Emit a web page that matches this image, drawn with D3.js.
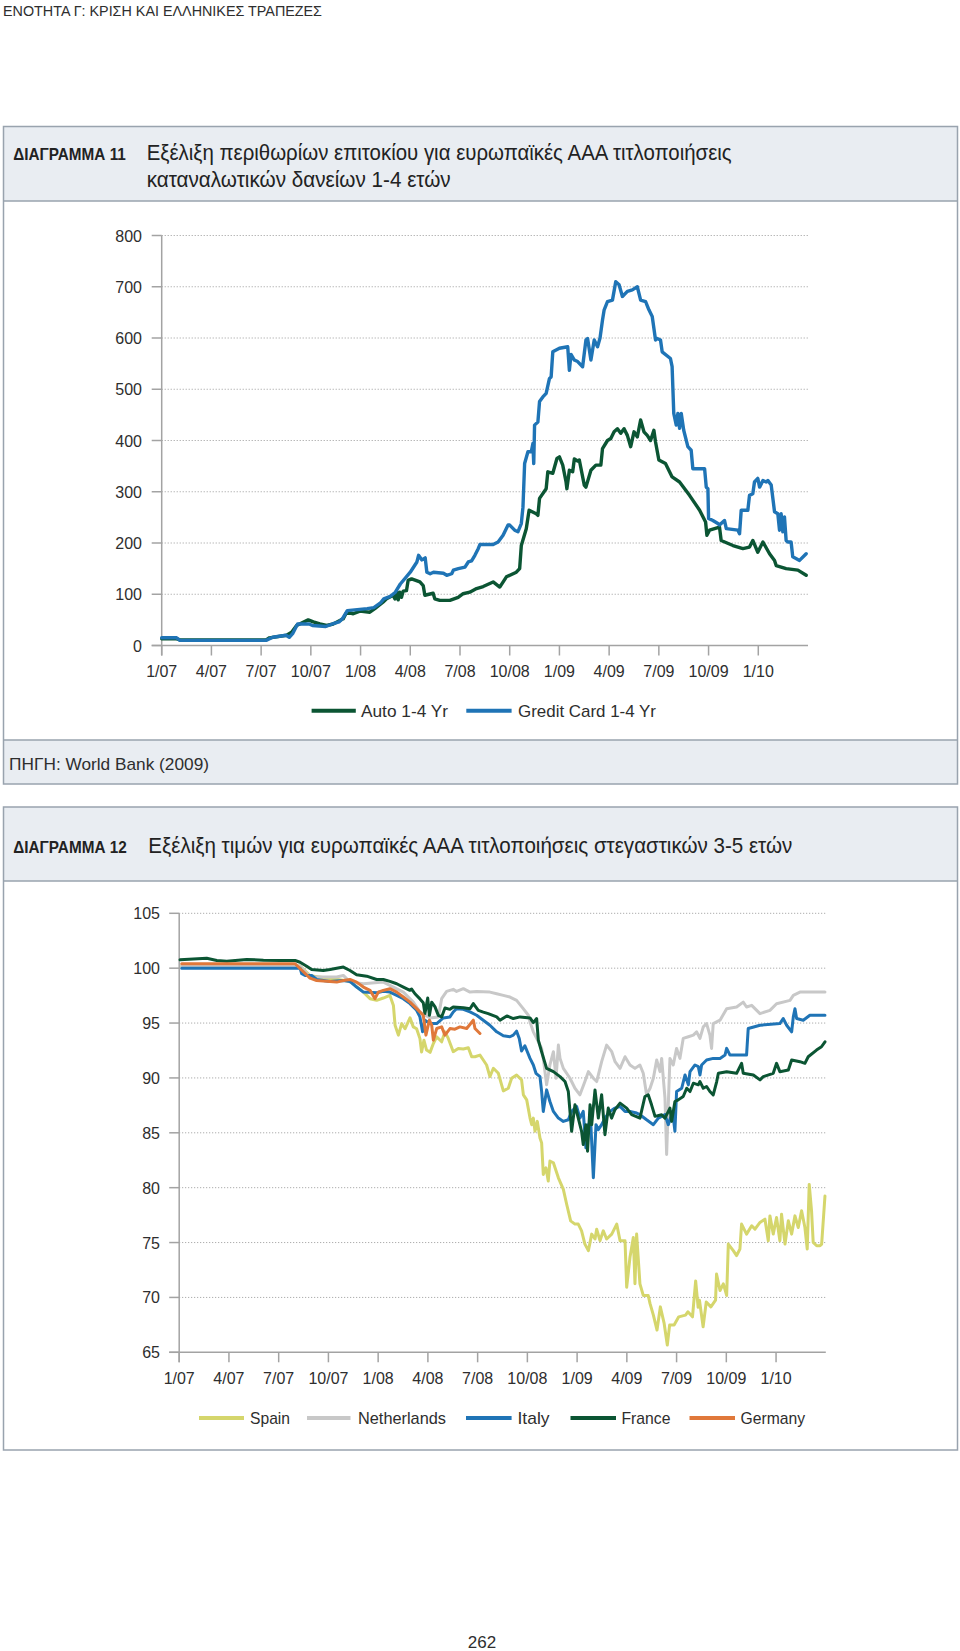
<!DOCTYPE html>
<html><head><meta charset="utf-8">
<script src="https://cdn.jsdelivr.net/npm/d3@7"></script>
<style>
body{margin:0;background:#fff}
svg text{font-family:"Liberation Sans Narrow","Liberation Sans",Arial,sans-serif;fill:#2e2e2e}
svg text.tick{font-family:"Liberation Sans",Arial,sans-serif}
</style>
</head><body>
<svg id="c" width="960" height="1651"></svg>
<script>
// ---------- data ----------
const quarterPos = [0,3,6,9,12,15,18,21,24,27,30,33,36];
const quarterLabels = ["1/07","4/07","7/07","10/07","1/08","4/08","7/08","10/08","1/09","4/09","7/09","10/09","1/10"];
const chart1YTicks = [0,100,200,300,400,500,600,700,800];
const chart2YTicks = [65,70,75,80,85,90,95,100,105];

// months since 1/07 , spread in bp
const autoSeries = [[0,13],[0.9,13],[1.1,11],[6.3,11],[6.5,15],[7.54,20],[7.84,26],[8.14,39],[8.84,50],[9.15,46],[9.55,42],[9.95,39],[10.35,42],[10.95,52],[11.16,65],[11.56,62],[11.96,67],[12.56,65],[12.86,72],[13.37,85],[13.57,91],[13.97,98],[14.07,91],[14.17,106],[14.27,89],[14.37,104],[14.47,94],[14.57,106],[14.77,107],[14.87,127],[15.08,130],[15.58,124],[15.78,117],[15.88,98],[16.38,102],[16.48,91],[16.78,88],[17.39,88],[17.89,94],[18.19,101],[18.59,104],[19.0,111],[19.4,115],[20.0,124],[20.4,114],[20.8,134],[21.4,143],[21.6,150],[21.7,195],[22.0,228],[22.17,264],[22.6,257],[22.7,254],[22.8,287],[23.2,306],[23.3,339],[23.6,336],[23.85,365],[24.0,368],[24.2,352],[24.4,319],[24.45,306],[24.6,342],[24.8,339],[24.9,364],[25.1,360],[25.2,362],[25.5,313],[25.6,309],[25.9,342],[26.2,352],[26.5,352],[26.6,384],[26.9,400],[27.1,404],[27.3,417],[27.5,423],[27.7,414],[27.9,423],[28.1,410],[28.3,388],[28.5,417],[28.7,407],[28.9,440],[29.1,417],[29.3,410],[29.5,400],[29.7,420],[29.8,397],[30.0,362],[30.4,355],[30.8,329],[31.25,319],[31.85,293],[32.46,264],[32.82,241],[32.9,215],[33.06,225],[33.66,231],[33.76,205],[34.47,195],[35.07,189],[35.47,192],[35.67,205],[35.97,182],[36.28,202],[36.68,179],[36.98,166],[37.08,156],[37.68,150],[38.39,147],[38.89,137]];
const creditSeries = [[0,15],[0.9,15],[1.1,10],[6.3,10],[6.7,16],[7.5,20],[7.7,16],[7.9,23],[8.2,42],[8.9,42],[9.1,39],[9.9,37],[10.3,42],[10.7,46],[10.9,52],[11.2,68],[11.8,70],[12.4,72],[12.8,74],[13.2,83],[13.4,91],[13.8,96],[14.1,104],[14.4,120],[15.0,143],[15.4,163],[15.5,176],[15.7,167],[15.9,171],[16.0,143],[16.2,140],[16.4,143],[17.0,141],[17.2,137],[17.5,140],[17.6,147],[17.9,150],[18.3,153],[18.5,163],[18.7,165],[18.9,176],[19.1,189],[19.2,197],[20.0,197],[20.3,202],[20.6,215],[20.9,235],[21.0,235],[21.3,225],[21.5,222],[21.7,238],[21.8,270],[21.9,355],[22.1,378],[22.3,378],[22.4,394],[22.45,355],[22.5,430],[22.7,436],[22.8,476],[23.0,485],[23.2,492],[23.4,521],[23.5,524],[23.6,573],[24.0,580],[24.5,583],[24.6,537],[24.7,568],[24.9,557],[25.1,554],[25.4,544],[25.6,596],[25.7,599],[25.9,557],[26.1,596],[26.3,583],[26.45,600],[26.6,635],[26.7,655],[26.9,671],[27.2,674],[27.4,710],[27.6,704],[27.8,681],[28.1,691],[28.4,694],[28.7,700],[28.9,674],[29.2,671],[29.4,655],[29.6,642],[29.8,596],[29.9,599],[30.1,596],[30.2,573],[30.7,560],[30.8,544],[30.9,453],[31.05,430],[31.15,453],[31.25,424],[31.35,453],[31.5,420],[31.75,388],[31.95,381],[32.05,345],[32.76,345],[32.86,309],[32.96,306],[33.0,248],[33.26,244],[33.56,238],[33.66,235],[33.96,244],[34.07,228],[34.77,225],[34.87,218],[34.97,264],[35.37,264],[35.47,293],[35.67,296],[35.77,319],[35.97,326],[36.08,309],[36.28,322],[36.48,319],[36.58,322],[36.78,313],[36.98,261],[37.18,257],[37.28,225],[37.38,257],[37.48,222],[37.58,251],[37.68,205],[37.78,202],[37.98,202],[38.08,173],[38.49,166],[38.89,179]];

// months since 1/07 , price
const spain = [[0.15,100.2],[7.3,100.2],[7.9,99.3],[10.3,98.8],[11.11,97.82],[11.51,97.22],[11.91,97.07],[12.31,97.28],[12.71,97.52],[12.92,96.6],[13.02,94.8],[13.22,93.9],[13.42,94.95],[13.62,94.48],[13.92,95.47],[14.12,94.65],[14.32,94.48],[14.52,93.58],[14.62,92.36],[14.76,93.44],[14.92,92.54],[15.13,92.33],[15.33,93.14],[15.53,93.75],[15.83,93.29],[16.03,94.2],[16.23,93.6],[16.53,92.39],[16.83,92.69],[17.14,92.63],[17.44,92.75],[17.64,91.93],[17.84,91.93],[18.14,92.08],[18.34,91.63],[18.54,91.18],[18.74,90.12],[18.95,90.88],[19.25,90.42],[19.55,88.82],[19.85,89.06],[20.05,89.97],[20.35,90.27],[20.65,89.82],[20.76,88.46],[20.96,88.0],[21.16,86.34],[21.26,85.74],[21.36,86.34],[21.46,85.14],[21.6,86.04],[21.76,84.53],[21.86,84.08],[21.96,81.21],[22.12,81.81],[22.26,80.6],[22.36,82.42],[22.57,82.27],[22.87,80.9],[23.17,79.85],[23.37,78.49],[23.61,76.98],[23.87,76.68],[24.07,76.68],[24.27,76.07],[24.47,74.86],[24.68,74.26],[24.88,75.77],[25.08,75.32],[25.18,76.22],[25.38,75.17],[25.58,76.07],[25.78,75.32],[26.09,75.77],[26.39,76.68],[26.59,75.17],[26.89,75.17],[26.99,70.93],[27.19,73.66],[27.39,75.47],[27.49,71.24],[27.59,75.77],[27.79,71.24],[27.99,70.18],[28.29,70.18],[28.4,69.43],[28.6,68.39],[28.82,67.03],[29.02,69.14],[29.25,67.63],[29.44,65.66],[29.58,67.48],[29.85,67.48],[30.13,68.23],[30.54,68.39],[30.68,68.69],[30.96,68.23],[31.15,71.5],[31.3,69.1],[31.38,69.75],[31.6,67.33],[31.79,69.59],[32.07,69.14],[32.35,69.75],[32.41,72.14],[32.62,70.63],[32.82,71.24],[33.02,70.18],[33.12,74.86],[33.42,74.26],[33.62,73.81],[33.82,74.41],[33.92,76.68],[34.22,75.77],[34.53,76.53],[34.73,76.22],[35.03,76.83],[35.33,77.13],[35.53,75.17],[35.63,77.43],[35.83,75.77],[36.03,77.28],[36.23,75.17],[36.33,77.58],[36.54,74.86],[36.74,76.98],[36.94,75.77],[37.14,77.43],[37.34,76.37],[37.54,77.89],[37.74,76.37],[37.88,74.41],[38.0,80.3],[38.14,77.89],[38.24,75.02],[38.45,74.71],[38.65,74.71],[38.75,74.86],[38.95,79.24]];
const netherlands = [[0.15,100.2],[7.29,100.2],[7.89,99.2],[9.5,99.2],[9.9,99.34],[10.3,98.73],[11.11,98.58],[12.31,98.73],[12.71,98.43],[13.52,97.82],[14.12,96.91],[14.52,96.0],[15.13,95.47],[15.63,95.56],[15.83,97.22],[16.13,97.88],[16.53,98.07],[16.73,97.88],[17.14,98.13],[17.54,97.82],[17.94,97.88],[18.74,97.82],[19.15,97.67],[19.55,97.52],[19.95,97.37],[20.35,97.07],[20.75,96.31],[21.06,95.71],[21.16,95.1],[21.36,94.2],[21.56,93.6],[21.86,92.69],[21.96,91.78],[22.06,90.57],[22.16,89.37],[22.36,91.18],[22.57,92.39],[22.73,89.97],[22.87,92.99],[22.97,91.78],[23.17,90.87],[23.57,89.97],[23.87,89.06],[24.17,88.46],[24.47,89.67],[24.68,90.57],[24.98,89.97],[25.18,89.67],[25.48,91.48],[25.78,92.99],[26.09,92.39],[26.29,91.48],[26.59,90.87],[26.89,91.93],[27.19,91.18],[27.49,90.87],[27.79,91.18],[27.99,90.42],[28.19,88.46],[28.4,89.06],[28.6,89.97],[28.8,91.63],[29.0,90.57],[29.1,91.78],[29.2,89.97],[29.3,88.16],[29.4,83.02],[29.5,87.55],[29.6,91.78],[29.8,91.18],[30.0,92.69],[30.2,91.78],[30.4,93.6],[30.71,93.75],[31.01,93.9],[31.21,94.2],[31.41,93.6],[31.61,94.65],[31.81,94.95],[32.01,93.9],[32.11,92.69],[32.21,94.95],[32.62,95.26],[33.02,96.31],[33.62,96.46],[34.02,96.91],[34.22,96.46],[34.53,96.61],[35.03,95.86],[35.63,96.16],[36.03,96.76],[36.84,97.07],[37.04,97.52],[37.44,97.82],[38.95,97.82]];
const italy = [[0.15,100.0],[7.29,100],[7.39,99.49],[7.59,99.34],[7.99,99.34],[8.29,98.97],[9.1,98.79],[9.9,98.88],[10.3,98.79],[10.7,98.28],[11.11,97.82],[11.91,97.76],[12.31,97.89],[12.71,97.82],[13.12,97.52],[13.52,97.22],[13.92,96.77],[14.32,96.16],[14.52,95.56],[14.68,94.2],[14.82,95.26],[15.13,94.95],[15.53,94.95],[15.93,95.47],[16.33,95.56],[16.53,96.01],[16.73,96.31],[17.14,96.25],[17.54,96.01],[17.94,95.71],[18.34,95.26],[18.74,94.8],[19.15,94.2],[19.55,93.84],[19.95,93.75],[20.15,93.9],[20.35,94.26],[20.51,93.6],[20.65,92.45],[20.85,92.93],[21.16,91.78],[21.36,91.18],[21.52,90.42],[21.76,90.12],[21.86,88.76],[21.96,86.95],[22.16,88.91],[22.36,87.85],[22.57,86.95],[22.87,86.34],[23.17,86.04],[23.47,86.19],[23.67,86.95],[23.97,87.4],[24.17,86.34],[24.37,86.95],[24.53,83.63],[24.68,85.74],[24.82,86.04],[24.98,80.9],[25.14,85.74],[25.28,85.29],[25.48,85.74],[25.68,86.34],[25.98,86.95],[26.28,87.25],[26.59,87.4],[26.89,86.95],[27.19,86.95],[27.59,86.8],[27.79,86.65],[28.19,86.19],[28.6,85.74],[28.9,86.34],[29.3,86.65],[29.5,85.74],[29.76,86.95],[29.9,85.14],[30.0,88.76],[30.31,89.06],[30.51,90.27],[30.71,89.37],[30.81,90.57],[31.11,91.18],[31.31,91.03],[31.41,90.27],[31.51,91.18],[31.81,91.63],[32.21,91.78],[32.62,91.78],[32.92,92.08],[33.02,92.69],[33.22,92.08],[34.22,92.08],[34.32,94.5],[35.03,94.8],[36.23,94.95],[36.43,95.41],[36.64,94.8],[36.94,94.2],[37.04,95.56],[37.14,96.31],[37.24,95.41],[37.64,95.26],[38.04,95.71],[38.95,95.71]];
const france = [[0.05,100.76],[1.66,100.9],[2.27,100.7],[2.87,100.63],[4.07,100.8],[5.08,100.73],[6.08,100.7],[6.99,100.7],[7.29,100.54],[7.69,100.18],[7.99,99.88],[8.69,99.79],[9.1,99.88],[9.9,100.1],[10.3,99.79],[10.7,99.4],[11.31,99.27],[11.91,98.97],[12.31,98.97],[12.71,98.8],[13.12,98.58],[13.52,98.28],[13.92,97.98],[14.02,98.1],[14.22,97.67],[14.52,97.2],[14.72,96.86],[14.82,95.86],[14.99,97.28],[15.09,95.7],[15.23,96.9],[15.43,96.47],[15.63,95.7],[15.83,95.56],[16.03,96.37],[16.33,96.25],[16.53,96.47],[17.14,96.4],[17.54,96.3],[17.74,96.77],[18.04,96.16],[18.34,96.0],[18.64,95.86],[19.15,95.56],[19.35,95.26],[19.76,95.65],[20.15,95.41],[20.56,95.56],[21.16,95.47],[21.36,95.04],[21.56,95.41],[21.66,93.44],[21.86,92.38],[22.16,90.87],[22.57,90.57],[22.97,90.12],[23.27,89.67],[23.47,88.76],[23.67,85.14],[23.87,87.55],[24.07,86.34],[24.27,85.14],[24.37,83.93],[24.53,85.74],[24.63,83.32],[24.78,87.55],[24.88,85.74],[25.08,88.91],[25.28,86.34],[25.48,88.46],[25.68,84.83],[25.88,87.25],[26.08,86.34],[26.28,87.1],[26.59,87.7],[26.99,87.25],[27.29,86.65],[27.79,86.34],[28.09,88.31],[28.29,88.46],[28.49,87.55],[28.7,86.5],[29.1,86.65],[29.3,86.34],[29.6,87.25],[29.7,86.04],[29.9,87.85],[30.1,88.0],[30.4,88.31],[30.61,89.06],[30.81,88.76],[31.01,89.52],[31.31,89.37],[31.41,89.67],[31.61,89.06],[31.81,89.22],[32.01,88.76],[32.21,88.46],[32.42,89.67],[32.52,90.42],[33.02,90.57],[33.62,90.42],[33.92,91.33],[34.02,90.42],[34.63,90.27],[35.03,89.82],[35.23,90.12],[35.83,90.42],[36.03,91.33],[36.23,90.57],[36.74,90.72],[36.94,91.63],[37.44,91.48],[37.74,91.33],[37.94,91.93],[38.44,92.54],[38.74,92.84],[38.95,93.29]];
const germany = [[0.15,100.4],[6.99,100.4],[7.89,99.1],[8.29,98.88],[9.1,98.79],[9.5,98.73],[9.9,98.88],[10.3,98.97],[10.7,98.73],[11.11,98.28],[11.51,97.98],[11.81,97.22],[12.01,97.82],[12.31,97.98],[12.71,98.13],[13.12,97.82],[13.52,97.37],[13.92,96.91],[14.32,96.31],[14.72,95.71],[14.88,93.9],[15.09,95.26],[15.23,94.8],[15.33,93.44],[15.53,94.5],[15.83,94.65],[16.03,93.9],[16.33,94.5],[16.63,94.44],[16.93,94.65],[17.34,94.5],[17.74,95.26],[17.84,94.5],[18.14,94.05]];

const chart1Series = [
  {name:"Auto 1-4 Yr", data:autoSeries, color:"#0b5533"},
  {name:"Gredit Card 1-4 Yr", data:creditSeries, color:"#1f74b6"}
];
const chart2Series = [
  {name:"Spain", data:spain, color:"#d5d66c"},
  {name:"Netherlands", data:netherlands, color:"#c8c8c8"},
  {name:"Italy", data:italy, color:"#1f74b6"},
  {name:"France", data:france, color:"#0b5533"},
  {name:"Germany", data:germany, color:"#e0783a"}
];

// ---------- drawing ----------
const svg = d3.select("#c");
const BORDER = "#99a3ae", BAND = "#e9edf2";

function txt(g, x, y, s, o={}) {
  const t = g.append("text").attr("x", x).attr("y", y).text(s)
    .attr("font-size", o.size || 15)
    .attr("text-anchor", o.anchor || "start");
  if (o.weight) t.attr("font-weight", o.weight);
  if (o.cls) t.attr("class", o.cls);
  if (o.len) t.attr("textLength", o.len).attr("lengthAdjust", "spacingAndGlyphs");
  if (o.fill) t.style("fill", o.fill);
  return t;
}

// page header
txt(svg, 3, 15.5, "ΕΝΟΤΗΤΑ Γ: ΚΡΙΣΗ ΚΑΙ ΕΛΛΗΝΙΚΕΣ ΤΡΑΠΕΖΕΣ", {size:15.5, len:319});

// ---- chart 1 frame ----
svg.append("rect").attr("x",3.5).attr("y",126.5).attr("width",954).attr("height",74.5).attr("fill",BAND);
svg.append("rect").attr("x",3.5).attr("y",740).attr("width",954).attr("height",44).attr("fill",BAND);
svg.append("rect").attr("x",3.5).attr("y",126.5).attr("width",954).attr("height",657.5).attr("fill","none").attr("stroke",BORDER).attr("stroke-width",1.5);
svg.append("line").attr("x1",3.5).attr("x2",957.5).attr("y1",201).attr("y2",201).attr("stroke",BORDER).attr("stroke-width",1.5);
svg.append("line").attr("x1",3.5).attr("x2",957.5).attr("y1",740).attr("y2",740).attr("stroke",BORDER).attr("stroke-width",1.5);
txt(svg, 13.3, 160, "ΔΙΑΓΡΑΜΜΑ 11", {size:16.5, weight:"bold", len:112.5, fill:"#222"});
txt(svg, 146.7, 160, "Εξέλιξη περιθωρίων επιτοκίου για ευρωπαϊκές ΑΑΑ τιτλοποιήσεις", {size:22, len:585, fill:"#222"});
txt(svg, 146.7, 186.7, "καταναλωτικών δανείων 1-4 ετών", {size:22, len:304, fill:"#222"});
txt(svg, 9, 770, "ΠΗΓΗ: World Bank (2009)", {size:17, len:200});

// ---- chart 2 frame ----
svg.append("rect").attr("x",3.5).attr("y",807).attr("width",954).attr("height",74).attr("fill",BAND);
svg.append("rect").attr("x",3.5).attr("y",807).attr("width",954).attr("height",643).attr("fill","none").attr("stroke",BORDER).attr("stroke-width",1.5);
svg.append("line").attr("x1",3.5).attr("x2",957.5).attr("y1",881).attr("y2",881).attr("stroke",BORDER).attr("stroke-width",1.5);
txt(svg, 13.3, 853.3, "ΔΙΑΓΡΑΜΜΑ 12", {size:16.5, weight:"bold", len:113.4, fill:"#222"});
txt(svg, 148.3, 853.3, "Εξέλιξη τιμών για ευρωπαϊκές ΑΑΑ τιτλοποιήσεις στεγαστικών 3-5 ετών", {size:22, len:644, fill:"#222"});

// page number
txt(svg, 482, 1648, "262", {size:17, anchor:"middle"});

function drawChart(cfg) {
  const g = svg.append("g");
  const x = d3.scaleLinear().domain([0,39]).range([cfg.x0, cfg.x1]);
  const y = d3.scaleLinear().domain(cfg.yDomain).range([cfg.yBottom, cfg.yTop]);
  const AX = "#a3a3a3";
  // gridlines
  g.selectAll(".grid").data(cfg.yTicks.slice(1)).join("line")
    .attr("x1", cfg.x0).attr("x2", cfg.x1)
    .attr("y1", d => y(d)).attr("y2", d => y(d))
    .attr("stroke", "#9a9a9a").attr("stroke-width", 1).attr("stroke-dasharray", "1,2");
  // y axis ticks
  g.selectAll(".yt").data(cfg.yTicks).join("line")
    .attr("x1", cfg.x0 - 10).attr("x2", cfg.x0)
    .attr("y1", d => y(d)).attr("y2", d => y(d))
    .attr("stroke", AX).attr("stroke-width", 1.5);
  g.selectAll(".yl").data(cfg.yTicks).join("text")
    .attr("class","tick")
    .attr("x", cfg.yLabelX).attr("y", d => y(d) + 6)
    .attr("text-anchor","end").attr("font-size", 16)
    .text(d => d);
  // axes lines
  g.append("line").attr("x1", cfg.x0).attr("x2", cfg.x0)
    .attr("y1", y(cfg.yDomain[1])).attr("y2", y(cfg.yDomain[0]) + 10)
    .attr("stroke", AX).attr("stroke-width", 1.5);
  g.append("line").attr("x1", cfg.x0 - 10).attr("x2", cfg.x1)
    .attr("y1", y(cfg.yDomain[0])).attr("y2", y(cfg.yDomain[0]))
    .attr("stroke", AX).attr("stroke-width", 1.5);
  // x ticks
  g.selectAll(".xt").data(quarterPos).join("line")
    .attr("x1", d => x(d)).attr("x2", d => x(d))
    .attr("y1", y(cfg.yDomain[0])).attr("y2", y(cfg.yDomain[0]) + 10)
    .attr("stroke", AX).attr("stroke-width", 1.5);
  g.selectAll(".xl").data(quarterPos).join("text")
    .attr("class","tick")
    .attr("x", d => x(d)).attr("y", cfg.xLabelY)
    .attr("text-anchor","middle").attr("font-size", 16)
    .text((d,i) => quarterLabels[i]);
  // series
  const line = d3.line().x(d => x(d[0])).y(d => y(d[1]));
  g.selectAll(".series").data(cfg.series).join("path")
    .attr("d", d => line(d.data))
    .attr("fill","none").attr("stroke", d => d.color)
    .attr("stroke-width", cfg.lw).attr("stroke-linejoin","round").attr("stroke-linecap","round");
  // legend
  cfg.series.forEach((s, i) => {
    const L = cfg.legend[i];
    g.append("line").attr("x1", L.lx0).attr("x2", L.lx1)
      .attr("y1", cfg.legendY).attr("y2", cfg.legendY)
      .attr("stroke", s.color).attr("stroke-width", 4);
    txt(g, L.tx, cfg.legendY + 6, s.name, {size:17, len:L.tw});
  });
}

drawChart({
  x0:161.7, x1:808, yDomain:[0,800], yBottom:645.5, yTop:235.5,
  yTicks:chart1YTicks, yLabelX:142, xLabelY:677, lw:3.4,
  series:chart1Series, legendY:710.7,
  legend:[{lx0:311.6,lx1:355.8,tx:361,tw:87},{lx0:466.3,lx1:511.6,tx:518,tw:138}]
});

drawChart({
  x0:179.2, x1:825.8, yDomain:[65,105], yBottom:1352.3, yTop:913.3,
  yTicks:chart2YTicks, yLabelX:160, xLabelY:1384, lw:3,
  series:chart2Series, legendY:1418,
  legend:[{lx0:199,lx1:244,tx:250,tw:40},{lx0:307,lx1:350.5,tx:358,tw:88},
          {lx0:466,lx1:511.6,tx:517.5,tw:32},{lx0:570.5,lx1:616,tx:621.5,tw:49},
          {lx0:689.5,lx1:735,tx:740.5,tw:64.5}]
});
</script>
</body></html>
